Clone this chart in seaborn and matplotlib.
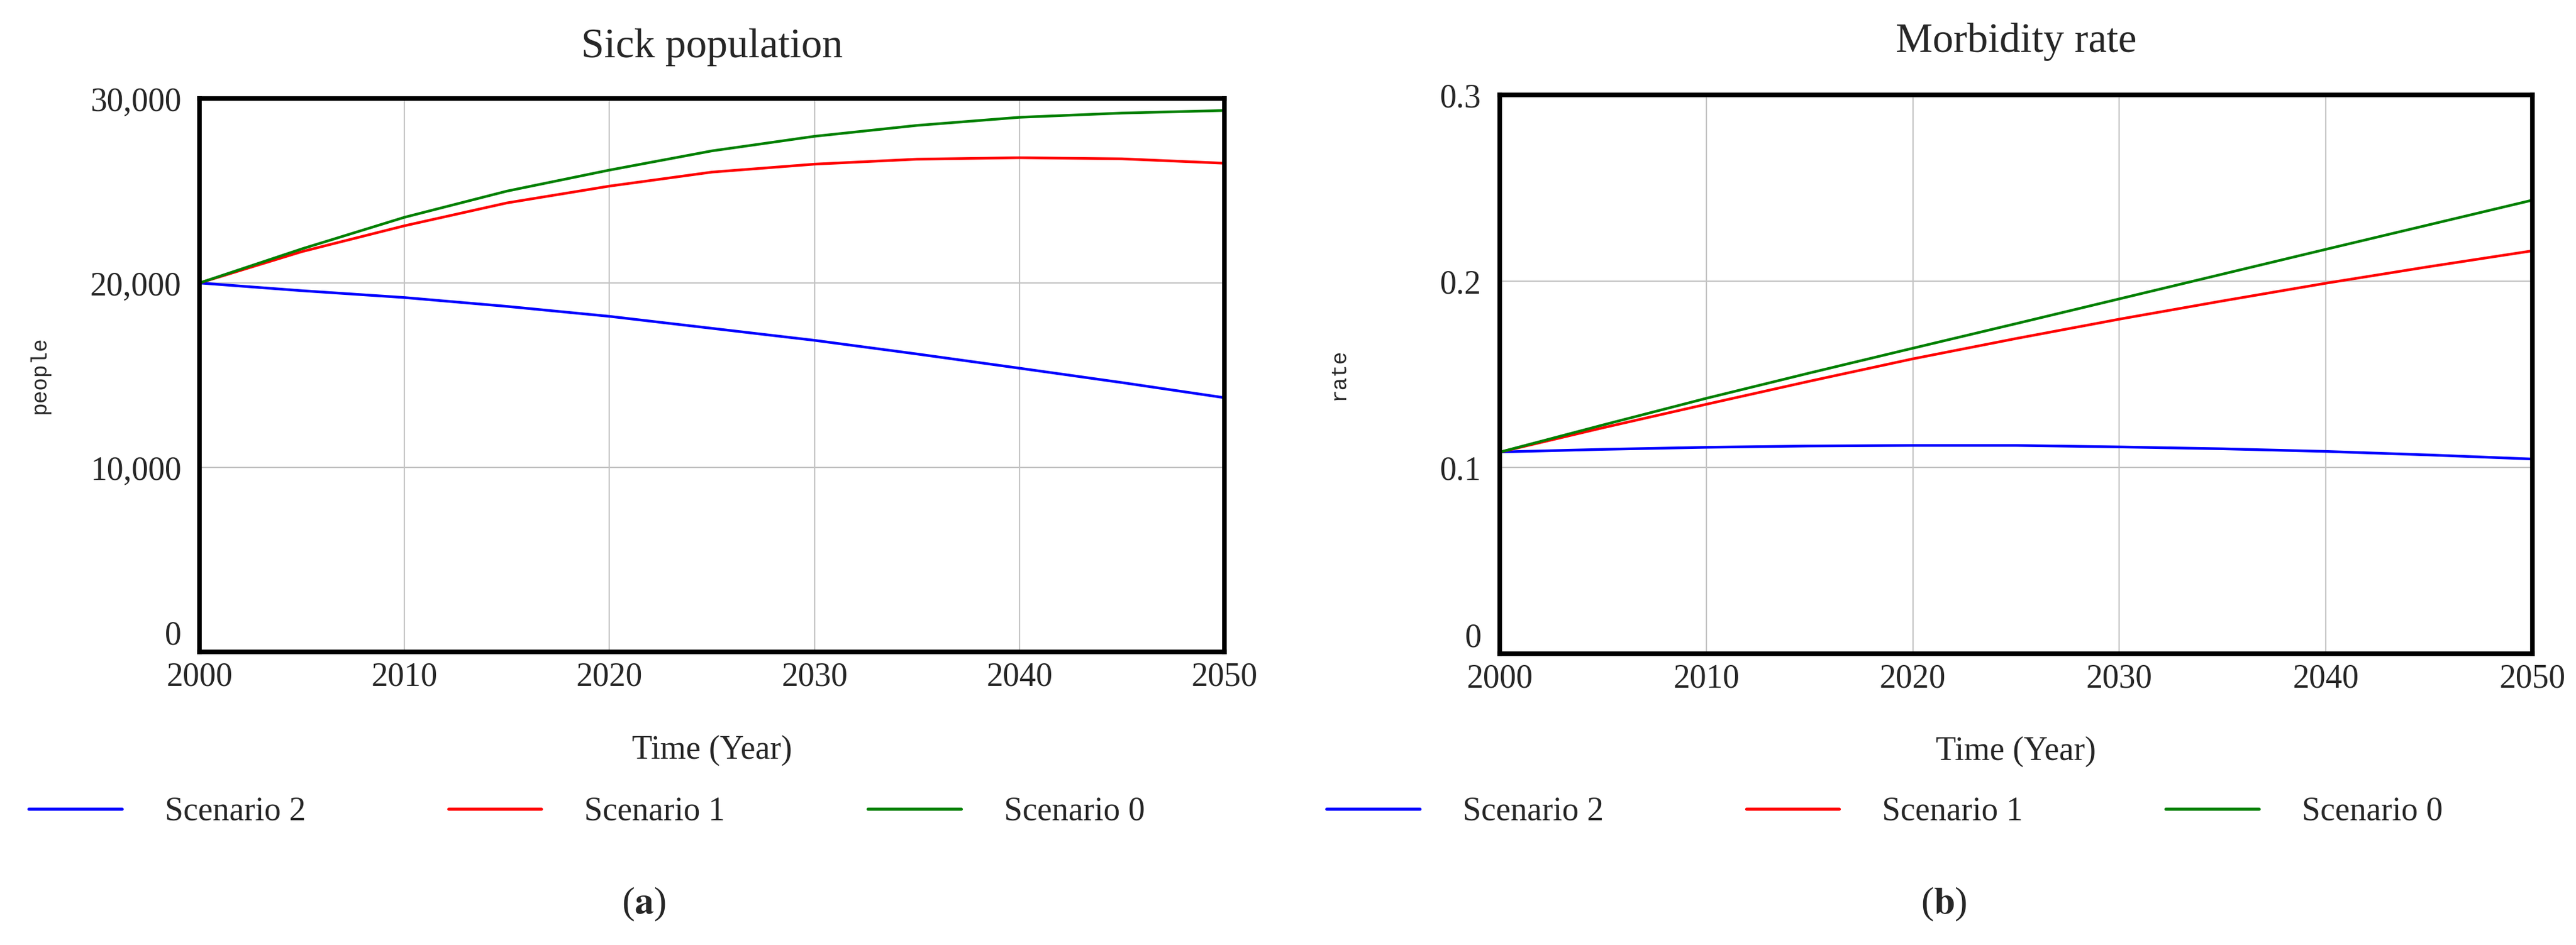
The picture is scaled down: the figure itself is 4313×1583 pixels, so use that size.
import numpy as np
import pandas as pd
import matplotlib
matplotlib.use("Agg")
import matplotlib.pyplot as plt
import seaborn as sns
from matplotlib.ticker import FuncFormatter
from matplotlib.lines import Line2D

# values (5-year steps)
years = [2000, 2005, 2010, 2015, 2020, 2025, 2030, 2035, 2040, 2045, 2050]

sick_s2 = [20000, 19580, 19210, 18730, 18190, 17540, 16890, 16150, 15380, 14600, 13780]
sick_s1 = [20000, 21700, 23100, 24340, 25250, 26010, 26440, 26710, 26790, 26730, 26490]
sick_s0 = [20000, 21850, 23560, 24980, 26120, 27160, 27950, 28540, 28980, 29210, 29350]

rate_s2 = [0.1083, 0.1097, 0.1108, 0.1115, 0.1118, 0.1118, 0.1110, 0.1100, 0.1086, 0.1067, 0.1045]
rate_s1 = [0.1082, 0.1213, 0.1339, 0.1463, 0.1583, 0.1692, 0.1796, 0.1894, 0.1989, 0.2078, 0.2163]
rate_s0 = [0.1082, 0.1228, 0.1371, 0.1507, 0.1640, 0.1772, 0.1905, 0.2038, 0.2171, 0.2303, 0.2435]

scenarios = ["Scenario 2", "Scenario 1", "Scenario 0"]
colors = ["#0000ff", "#ff0000", "#008000"]

sick_ticks = [0, 10000, 20000, 30000]
rate_ticks = [0, 0.1, 0.2, 0.3]
year_ticks = [2000, 2010, 2020, 2030, 2040, 2050]


def long_form(series):
    frames = []
    for name, vals in zip(scenarios, series):
        frames.append(pd.DataFrame({"year": years, "value": vals, "scenario": name}))
    return pd.concat(frames, ignore_index=True)


sick_df = long_form([sick_s2, sick_s1, sick_s0])
rate_df = long_form([rate_s2, rate_s1, rate_s0])

sns.set_style("white")
plt.rcParams["font.family"] = ["Liberation Serif", "DejaVu Serif"]
plt.rcParams["mathtext.fontset"] = "stix"

W, H, DPI = 4313, 1583, 100
fig = plt.figure(figsize=(W / DPI, H / DPI), dpi=DPI)


def px_box(x0, x1, top, bottom):
    return [x0 / W, 1 - bottom / H, (x1 - x0) / W, (bottom - top) / H]


ax1 = fig.add_axes(px_box(334, 2050, 165, 1092))
ax2 = fig.add_axes(px_box(2511, 4240, 159, 1095))

panels = [
    (ax1, sick_df, "Sick population", "people", sick_ticks, (0, 30000), 50, -0.178),
    (ax2, rate_df, "Morbidity rate", "rate", rate_ticks, (0, 0.3), 52, -0.175),
]

for ax, df, title, ylab, yt, ylim, tpad, xl_y in panels:
    sns.lineplot(data=df, x="year", y="value", hue="scenario", hue_order=scenarios,
                 palette=colors, linewidth=3.2, ax=ax, legend=False)
    ax.set_xlim(2000, 2050)
    ax.set_ylim(*ylim)
    ax.set_xticks(year_ticks)
    ax.set_yticks(yt)
    ax.grid(True, color="#c4c4c4", linewidth=1.6)
    ax.set_axisbelow(True)
    for sp in ax.spines.values():
        sp.set_visible(True)
        sp.set_color("black")
        sp.set_linewidth(5.5)
    ax.tick_params(length=0, labelsize=40, pad=22)
    ax.tick_params(axis="x", pad=12)
    ax.set_title(title, fontsize=50, pad=tpad)
    ax.set_xlabel("Time (Year)", fontsize=40, va="center")
    ax.xaxis.set_label_coords(0.5, xl_y)
    ax.set_ylabel(ylab, fontsize=26, family=["Liberation Mono", "DejaVu Sans Mono"])
    ax.yaxis.set_label_coords(-0.146, 0.5)

ax1.yaxis.set_major_formatter(FuncFormatter(lambda v, p: f"{int(v):,}"))
ax2.yaxis.set_major_formatter(FuncFormatter(lambda v, p: "0" if v == 0 else f"{v:g}"))

# the "0" label sits just above the bottom frame, clear of the year labels
for ax in (ax1, ax2):
    ax.yaxis.get_major_ticks()[0].label1.set_verticalalignment("bottom")

# legends under each panel
handles = [Line2D([], [], color=c, linewidth=3.8) for c in colors]
for x_px in (48, 2221):
    fig.legend(handles, scenarios, loc="center left",
               bbox_to_anchor=(x_px / W, 1 - 1360 / H), ncol=3, frameon=False,
               fontsize=40, handlelength=2.8, handletextpad=1.3, columnspacing=4.3,
               borderpad=0, borderaxespad=0)

fig.text(1078 / W, 1 - 1515 / H, r"($\mathbf{a}$)", fontsize=46, ha="center", va="center")
fig.text(3255 / W, 1 - 1515 / H, r"($\mathbf{b}$)", fontsize=46, ha="center", va="center")

fig.savefig("out.png", dpi=DPI, facecolor="white")
